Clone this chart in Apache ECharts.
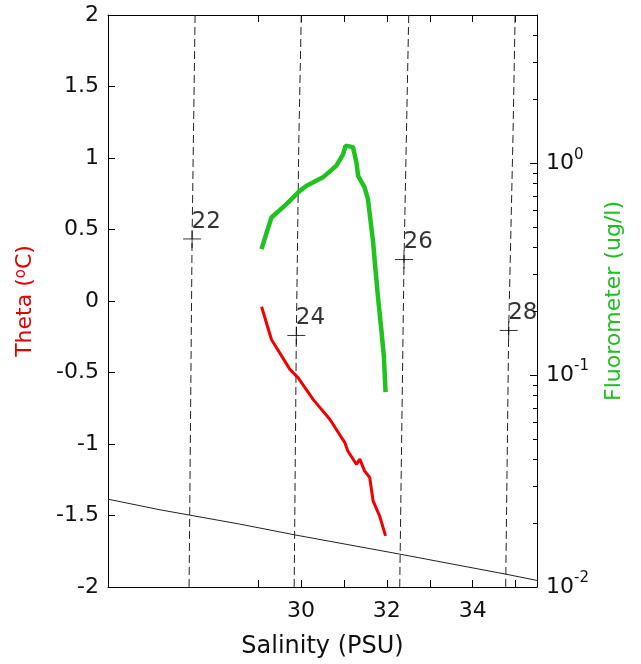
<!DOCTYPE html>
<html>
<head>
<meta charset="utf-8">
<script src="https://cdn.jsdelivr.net/npm/echarts@6/dist/echarts.min.js"></script>
<style>
  html, body { margin: 0; padding: 0; background: #fff; }
  #chart { width: 641px; height: 664px; }
</style>
</head>
<body>
<div id="chart"></div>
<script>
// Potential temperature profile against salinity
const thetaSalinity = [29.08, 29.31, 29.74, 29.93, 30.28, 30.67, 31.02, 31.09, 31.29, 31.37, 31.48, 31.60, 31.68, 31.83, 31.97];
const thetaValues   = [-0.04, -0.269, -0.478, -0.536, -0.688, -0.827, -0.990, -1.049, -1.142, -1.106, -1.188, -1.234, -1.398, -1.502, -1.642];

// Fluorometer profile against salinity (log scale, ug/l)
const fluorSalinity = [29.08, 29.15, 29.31, 29.35, 29.66, 29.97, 30.13, 30.51, 30.82, 30.98, 31.04, 31.21, 31.29, 31.33, 31.48, 31.56, 31.68, 31.72, 31.79, 31.87, 31.93, 31.97];
const fluorValues   = [0.393, 0.438, 0.554, 0.564, 0.641, 0.740, 0.782, 0.857, 0.971, 1.10, 1.21, 1.19, 1.01, 0.871, 0.768, 0.676, 0.423, 0.340, 0.237, 0.165, 0.123, 0.083];

// Sigma-theta isopycnals
const sigma22Salinity = [27.53, 27.46, 27.39];
const sigma22Theta    = [2, 0.436, -2];
const sigma24Salinity = [30.005, 29.95, 29.89, 29.84];
const sigma24Theta    = [2, 1.148, -0.241, -2];
const sigma26Salinity = [32.51, 32.40, 32.30];
const sigma26Theta    = [2, 0.29, -2];
const sigma28Salinity = [34.99, 34.94, 34.84, 34.77];
const sigma28Theta    = [2, 1.148, -0.206, -2];

// Isopycnal label positions
const contourLevels   = ['22', '24', '26', '28'];
const labelSalinity   = [27.46, 29.89, 32.40, 34.84];
const labelTheta      = [0.434, -0.241, 0.290, -0.206];

// Freezing point of seawater
const freezeSalinity = [25.5, 26.71, 28.57, 29.88, 32.30, 34.77, 35.5];
const freezeTheta    = [-1.386, -1.460, -1.560, -1.637, -1.770, -1.910, -1.954];

// Axis ticks
const salinityTicks  = [29, 30, 31, 32, 33, 34, 35];
const salinityLabels = [30, 32, 34];
const fluorMajor     = [0.01, 0.1, 1];
const fluorMinor     = [0.02, 0.03, 0.04, 0.05, 0.06, 0.07, 0.08, 0.09, 0.2, 0.3, 0.4, 0.5, 0.6, 0.7, 0.8, 0.9, 2, 3, 4];

const FONT = 'DejaVu Sans';
const zip = (a, b) => a.map((v, i) => [v, b[i]]);

const chart = echarts.init(document.getElementById('chart'), null, { renderer: 'canvas' });

const axisLine = { show: true, onZero: false, lineStyle: { color: '#000', width: 1 } };
const tickLine = { color: '#000', width: 1 };
const labelText = { fontFamily: FONT, fontSize: 22, color: '#111' };

function isopycnal(s, t) {
  return {
    type: 'line', xAxisIndex: 0, yAxisIndex: 0, data: zip(s, t),
    symbol: 'none', silent: true, z: 1,
    lineStyle: { color: '#222', width: 1, type: [8, 4] }
  };
}

chart.setOption({
  animation: false,
  backgroundColor: '#fff',
  grid: { left: 108, right: 104, top: 15, bottom: 76, containLabel: false },
  xAxis: [
    {
      type: 'value', position: 'bottom', min: 25.5, max: 35.5,
      axisLine, splitLine: { show: false },
      axisTick: { inside: true, length: 7, lineStyle: tickLine, customValues: salinityTicks },
      axisLabel: Object.assign({ margin: 13, customValues: salinityLabels }, labelText),
      name: 'Salinity (PSU)', nameLocation: 'middle', nameGap: 48,
      nameTextStyle: { fontFamily: FONT, fontSize: 24, color: '#111' }
    },
    {
      type: 'value', position: 'top', min: 25.5, max: 35.5,
      axisLine, splitLine: { show: false },
      axisTick: { inside: true, length: 7, lineStyle: tickLine, customValues: salinityTicks },
      axisLabel: { show: false }
    }
  ],
  yAxis: [
    {
      type: 'value', position: 'left', min: -2, max: 2, interval: 0.5,
      axisLine, splitLine: { show: false },
      axisTick: { inside: true, length: 7, lineStyle: tickLine },
      axisLabel: Object.assign({ margin: 9 }, labelText),
      name: 'Theta ({s|o}C)', nameLocation: 'middle', nameRotate: 90, nameGap: 72,
      nameTextStyle: {
        fontFamily: FONT, fontSize: 22, color: '#e00000',
        rich: { s: { fontFamily: FONT, fontSize: 15, color: '#e00000', verticalAlign: 'top', lineHeight: 14 } }
      }
    },
    {
      type: 'log', logBase: 10, position: 'right', min: 0.01, max: 5,
      axisLine, splitLine: { show: false },
      axisTick: { inside: true, length: 7, lineStyle: tickLine, customValues: fluorMajor },
      axisLabel: {
        margin: 9, customValues: fluorMajor,
        formatter: v => '{b|10}{s|' + Math.round(Math.log10(v)) + '}',
        rich: {
          b: { fontFamily: FONT, fontSize: 22, color: '#111', lineHeight: 32 },
          s: { fontFamily: FONT, fontSize: 15, color: '#111', lineHeight: 15, verticalAlign: 'top' }
        }
      },
      name: 'Fluorometer (ug/l)', nameLocation: 'middle', nameRotate: 90, nameGap: 66,
      nameTextStyle: { fontFamily: FONT, fontSize: 22, color: '#1fbf1f' }
    },
    {
      type: 'log', logBase: 10, position: 'right', min: 0.01, max: 5,
      axisLine: { show: false }, splitLine: { show: false },
      axisTick: { inside: true, length: 4, lineStyle: tickLine, customValues: fluorMinor },
      axisLabel: { show: false }
    }
  ],
  series: [
    isopycnal(sigma22Salinity, sigma22Theta),
    isopycnal(sigma24Salinity, sigma24Theta),
    isopycnal(sigma26Salinity, sigma26Theta),
    isopycnal(sigma28Salinity, sigma28Theta),
    {
      type: 'line', xAxisIndex: 0, yAxisIndex: 0, data: zip(freezeSalinity, freezeTheta),
      symbol: 'none', silent: true, z: 1,
      lineStyle: { color: '#222', width: 1 }
    },
    {
      type: 'scatter', xAxisIndex: 0, yAxisIndex: 0, silent: true, z: 3,
      data: contourLevels.map((n, i) => ({ name: n, value: [labelSalinity[i], labelTheta[i]] })),
      symbol: 'path://M-1,0L1,0M0,-1L0,1', symbolSize: 18,
      itemStyle: { color: 'transparent', borderColor: '#000', borderWidth: 1 },
      label: {
        show: true, position: [9, -19], formatter: p => p.name,
        fontFamily: FONT, fontSize: 23, color: '#000'
      }
    },
    {
      type: 'line', name: 'Theta', xAxisIndex: 0, yAxisIndex: 0,
      data: zip(thetaSalinity, thetaValues), symbol: 'none', z: 4,
      lineStyle: { color: '#f00000', width: 3 }
    },
    {
      type: 'line', name: 'Fluorometer', xAxisIndex: 0, yAxisIndex: 1,
      data: zip(fluorSalinity, fluorValues), symbol: 'none', z: 4,
      lineStyle: { color: '#1fc21f', width: 4.5 }
    }
  ]
});
</script>
</body>
</html>
